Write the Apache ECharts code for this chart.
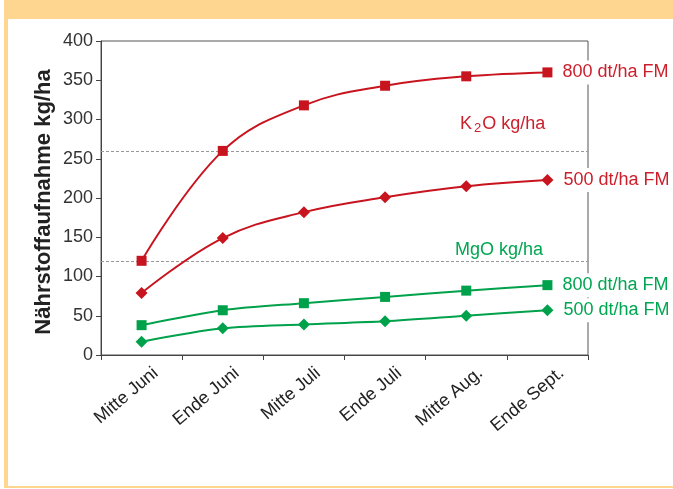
<!DOCTYPE html>
<html>
<head>
<meta charset="utf-8">
<script src="https://cdn.jsdelivr.net/npm/echarts@6/dist/echarts.min.js"></script>
<style>
html,body{margin:0;padding:0;background:#fff;}
#c{width:673px;height:489px;}
</style>
</head>
<body>
<div id="c"></div>
<script>
var categories = ['Mitte Juni', 'Ende Juni', 'Mitte Juli', 'Ende Juli', 'Mitte Aug.', 'Ende Sept.'];
var k2o800 = [120, 260, 318, 343, 355, 360];
var k2o500 = [79, 149, 182, 201, 215, 223];
var mgo800 = [38, 57, 66, 74, 82, 89];
var mgo500 = [17, 34, 39, 43, 50, 57];
var refLines = [260, 120];
var yTicks = { min: 0, max: 400, interval: 50 };
var endLabels = ['800 dt/ha FM', '500 dt/ha FM', '800 dt/ha FM', '500 dt/ha FM'];

var RED = '#C8141E';
var RED_T = '#CC1F2C';
var GREEN = '#00A14B';
var GREEN_T = '#00A651';
var FONT = '"Liberation Sans", Arial, sans-serif';
var ORANGE = '#FFD690';

function withEndLabel(values, text, color) {
  return values.map(function (v, i) {
    if (i === values.length - 1) {
      return {
        value: v,
        label: {
          show: true, position: 'right', distance: 10,
          formatter: text, color: color, fontSize: 18, fontFamily: FONT,
          backgroundColor: '#fff', padding: [3, 0, 3, 0]
        }
      };
    }
    return v;
  });
}

var chart = echarts.init(document.getElementById('c'), null, { renderer: 'canvas' });
var option = {
  backgroundColor: '#fff',
  animation: false,
  grid: { left: 101, right: 85, top: 41, bottom: 134, show: true, borderColor: '#555', borderWidth: 1, backgroundColor: 'transparent' },
  xAxis: {
    type: 'category',
    data: categories,
    boundaryGap: true,
    axisLine: { lineStyle: { color: '#444', width: 1 } },
    axisTick: { show: true, length: 5, lineStyle: { color: '#444' } },
    axisLabel: { rotate: 40, fontSize: 18, color: '#222', fontFamily: FONT, margin: 16, interval: 0,
                 verticalAlign: 'top', padding: [0, -11, 0, 0] },
    splitLine: { show: false }
  },
  yAxis: {
    type: 'value',
    min: yTicks.min, max: yTicks.max, interval: yTicks.interval,
    axisLine: { show: true, lineStyle: { color: '#444', width: 1 } },
    axisTick: { show: true, length: 5, lineStyle: { color: '#444' } },
    axisLabel: { fontSize: 18, color: '#333', fontFamily: FONT, margin: 8 },
    splitLine: { show: false }
  },
  graphic: [
    { type: 'rect', shape: { x: 4, y: 0, width: 669, height: 19 }, style: { fill: ORANGE }, z: -1 },
    { type: 'rect', shape: { x: 4, y: 19, width: 4, height: 469 }, style: { fill: ORANGE }, z: -1 },
    { type: 'rect', shape: { x: 4, y: 486, width: 669, height: 2 }, style: { fill: ORANGE }, z: -1 },
    {
      type: 'text', x: 44, y: 202, rotation: Math.PI / 2,
      style: { text: 'Nährstoffaufnahme kg/ha', font: 'bold 22px ' + FONT, fill: '#222', align: 'center', verticalAlign: 'middle' }
    },
    {
      type: 'text', x: 460, y: 124,
      style: {
        text: '{a|K}{s|2}{a|O kg/ha}', align: 'left', verticalAlign: 'middle',
        rich: {
          a: { fontSize: 18, fontFamily: FONT, fill: RED_T, color: RED_T },
          s: { fontSize: 13, fontFamily: FONT, fill: RED_T, color: RED_T, padding: [8, 1, 0, 2] }
        }
      }
    },
    {
      type: 'text', x: 455, y: 250,
      style: { text: 'MgO kg/ha', font: '18px ' + FONT, fill: GREEN_T, align: 'left', verticalAlign: 'middle' }
    }
  ],
  series: [
    {
      name: 'ref', type: 'line', data: [], z: 1,
      markLine: {
        silent: true, symbol: 'none', label: { show: false }, z: 1,
        lineStyle: { color: '#999', type: [3, 2], width: 1 },
        data: refLines.map(function (v) { return { yAxis: v }; })
      }
    },
    {
      name: 'K2O 800', type: 'line', data: withEndLabel(k2o800, endLabels[0], RED_T), z: 3,
      smooth: 0.4, symbol: 'rect', symbolSize: 10,
      lineStyle: { color: RED, width: 2 }, itemStyle: { color: RED }
    },
    {
      name: 'K2O 500', type: 'line', data: withEndLabel(k2o500, endLabels[1], RED_T), z: 3,
      smooth: 0.4, symbol: 'diamond', symbolSize: 12,
      lineStyle: { color: RED, width: 2 }, itemStyle: { color: RED }
    },
    {
      name: 'MgO 800', type: 'line', data: withEndLabel(mgo800, endLabels[2], GREEN_T), z: 3,
      smooth: 0.3, symbol: 'rect', symbolSize: 10,
      lineStyle: { color: GREEN, width: 2 }, itemStyle: { color: GREEN }
    },
    {
      name: 'MgO 500', type: 'line', data: withEndLabel(mgo500, endLabels[3], GREEN_T), z: 3,
      smooth: 0.3, symbol: 'diamond', symbolSize: 12,
      lineStyle: { color: GREEN, width: 2 }, itemStyle: { color: GREEN }
    }
  ]
};
chart.setOption(option);
</script>
</body>
</html>
